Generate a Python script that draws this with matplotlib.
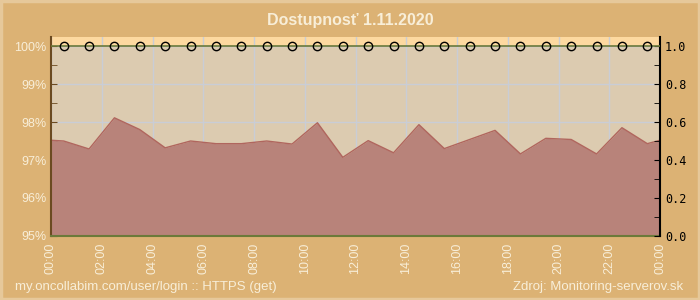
import matplotlib
matplotlib.use("Agg")
import matplotlib.pyplot as plt
from matplotlib.ticker import MultipleLocator, FuncFormatter
from matplotlib.patches import Rectangle

plt.rcParams['font.family'] = ['Liberation Sans', 'DejaVu Sans']

# hodiny (0..24) a dostupnost v %
hours = [0.0, 0.5, 1.5, 2.5, 3.5, 4.5, 5.5, 6.5, 7.5, 8.5, 9.5, 10.5, 11.5,
         12.5, 13.5, 14.5, 15.5, 16.5, 17.5, 18.5, 19.5, 20.5, 21.5, 22.5, 23.5, 24.0]
avail = [97.52, 97.50, 97.29, 98.11, 97.80, 97.32, 97.50, 97.43, 97.43, 97.50, 97.42,
         97.98, 97.07, 97.51, 97.19, 97.93, 97.30, 97.54, 97.78, 97.16, 97.57, 97.54,
         97.16, 97.85, 97.43, 97.52]
# stav (1.0 = dostupne) v polhodinach
state_hours = [h + 0.5 for h in range(24)]
state = [1.0] * 24

xtick_hours = list(range(0, 25, 2))
xtick_labels = ['{:02d}:00'.format(h % 24) for h in xtick_hours]

bg = '#dcb274'
plot_bg = '#dccbb0'
top_bg = '#fdd9a0'
fill_c = '#b8837a'
edge_c = '#b0665e'
grid_c = '#c9cdd6'
txt_c = '#f8eed8'
olive = '#6b7a3a'

fig = plt.figure(figsize=(7, 3), dpi=100, facecolor=bg)
fig.patches.append(Rectangle((0.002, 0.004), 0.996, 0.992, transform=fig.transFigure,
                             fill=False, ec='#e6c89a', lw=2.5))

ax = fig.add_axes([51/700, 1-236/300, 609/700, 199/300])
ax.set_facecolor(plot_bg)
ytop = 100 + 9/38.0
ax.set_xlim(0, 24)
ax.set_ylim(95, ytop)
ax.axhspan(100, ytop, color=top_bg, zorder=0.5, lw=0)

ax.fill_between(hours, 95, avail, color=fill_c, zorder=2, lw=0)
ax.plot(hours, avail, color=edge_c, lw=1, zorder=2.5)

ax.grid(True, which='major', color=grid_c, lw=1, zorder=1)
ax.set_axisbelow(True)

ax.set_xticks(xtick_hours)
ax.set_xticklabels(xtick_labels, rotation=90, color=txt_c, fontsize=9)
ax.xaxis.set_minor_locator(MultipleLocator(0.5))
ax.yaxis.set_major_locator(MultipleLocator(1))
ax.yaxis.set_minor_locator(MultipleLocator(0.5))
ax.yaxis.set_major_formatter(FuncFormatter(lambda v, p: '{:.0f}%'.format(v)))
ax.tick_params(axis='y', colors=txt_c, labelsize=9, direction='in', length=4,
               color='#6b4a20')
ax.tick_params(axis='y', which='minor', direction='in', length=4, color='#6b4a20')
ax.tick_params(axis='x', which='major', direction='in', length=5, color=olive, pad=5)
ax.tick_params(axis='x', which='minor', direction='in', length=3, color=olive)
for lab in ax.get_yticklabels():
    lab.set_color(txt_c)

ax.spines['top'].set_visible(False)
ax.spines['right'].set_visible(False)
ax.spines['left'].set_color('#6b4a20')
ax.spines['left'].set_linewidth(1.5)
ax.spines['bottom'].set_color(olive)
ax.spines['bottom'].set_linewidth(1.5)

ax2 = ax.twinx()
ax2.set_ylim(0, (ytop - 95) / 5)
ax2.plot([0, 24], [1.0, 1.0], color=olive, lw=1.2, zorder=3)
ax2.plot(state_hours, state, ls='none', marker='o', ms=6, mfc='none', mec='black',
         mew=1, zorder=4)
ax2.yaxis.set_major_locator(MultipleLocator(0.2))
ax2.yaxis.set_minor_locator(MultipleLocator(0.1))
ax2.yaxis.set_major_formatter(FuncFormatter(lambda v, p: '{:.1f}'.format(v)))
ax2.tick_params(axis='y', direction='in', length=4, color='black', labelsize=8.5,
                labelcolor='black')
ax2.tick_params(axis='y', which='minor', direction='in', length=4, color='black')
for lab in ax2.get_yticklabels():
    lab.set_family('DejaVu Sans Mono')
for s in ['top', 'left', 'bottom']:
    ax2.spines[s].set_visible(False)
ax2.spines['right'].set_color('black')
ax2.spines['right'].set_linewidth(1.5)

fig.text(0.5, 1-20/300, 'Dostupnosť 1.11.2020', ha='center', va='center',
         fontsize=11.5, fontweight='bold', color=txt_c)
fig.text(15/700, 1-287/300, 'my.oncollabim.com/user/login :: HTTPS (get)', ha='left',
         va='center', fontsize=9.5, color=txt_c)
fig.text(683/700, 1-287/300, 'Zdroj: Monitoring-serverov.sk', ha='right',
         va='center', fontsize=9.5, color=txt_c)

fig.savefig('out.png', dpi=100, facecolor=bg)
